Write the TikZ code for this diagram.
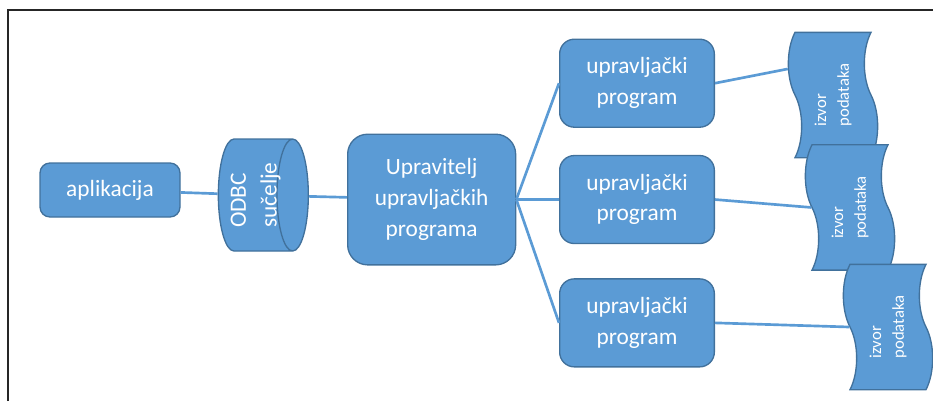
\documentclass[tikz,border=0pt]{standalone}
\usepackage{fontspec}
\setmainfont{Carlito}
\usepackage{graphicx}
\usepackage{xcolor}
\usepackage{tikz}
\usetikzlibrary{positioning,shapes.geometric,shapes.symbols}

\definecolor{boxfill}{HTML}{5B9BD5}
\definecolor{boxline}{HTML}{41719C}

\begin{document}
\begin{tikzpicture}[
    x=1pt, y=1pt,
    frame/.style={draw=black!85, line width=1.3pt},
    block/.style={draw=boxline, fill=boxfill, line width=1pt, text=white, align=center,
        inner sep=2pt, font=\fontsize{17.5}{23}\selectfont},
    prog/.style={block, rounded corners=11pt, minimum width=116pt, minimum height=66pt},
    source/.style={tape, draw=boxline, fill=boxfill, line width=1pt, text=white, rotate=90,
        tape bend height=10pt, minimum width=94pt, minimum height=67pt, inner sep=0pt,
        font=\fontsize{12.5}{17}\selectfont},
    link/.style={draw=boxfill, line width=2pt}
]
\useasboundingbox (0,0) rectangle (699.75,-300.75);
\draw[frame] (6,-300.75) |- (699.75,-7.5);

\node[block, rounded corners=7.5pt, minimum width=105pt, minimum height=40.5pt] (app) at (82.5,-142.5) {aplikacija};
\node[block, cylinder, shape aspect=0.28, inner sep=0pt, minimum width=0pt, minimum height=67.5pt,
      right=27.75pt of app, yshift=-3.75pt] (odbc)
      {\rule[-42pt]{0pt}{84pt}\makebox[0pt]{\raisebox{-4.4pt}{\rotatebox[origin=c]{90}{\begin{tabular}{@{}l@{}}ODBC\\sučelje\end{tabular}}}}};
\node[block, rounded corners=15pt, minimum width=126pt, minimum height=98pt,
      right=28.5pt of odbc, yshift=-3.4pt] (manager) {Upravitelj\\upravljačkih\\programa};

\node[prog, right=32pt of manager] (progB) {upravljački\\program};
\node[prog, above=20.25pt of progB] (progA) {upravljački\\program};
\node[prog, below=25.5pt of progB] (progC) {upravljački\\program};

\node[source] (srcA) at (624.75,-71.25) {\begin{tabular}{@{}l@{}}izvor\\podataka\end{tabular}};
\node[source] (srcB) at (637.5,-155.6) {\begin{tabular}{@{}l@{}}izvor\\podataka\end{tabular}};
\node[source] (srcC) at (666,-245.25) {\begin{tabular}{@{}l@{}}izvor\\podataka\end{tabular}};

\draw[link] (app) -- (odbc);
\draw[link] (odbc) -- (manager);
\draw[link] (manager.east) -- (progA.west);
\draw[link] (manager.east) -- (progB.west);
\draw[link] (manager.east) -- (progC.west);
\draw[link] (progA.east) -- (srcA.60);
\draw[link] (progB.east) -- (srcB.north);
\draw[link] (progC.east) -- (srcC.north);
\end{tikzpicture}
\end{document}
